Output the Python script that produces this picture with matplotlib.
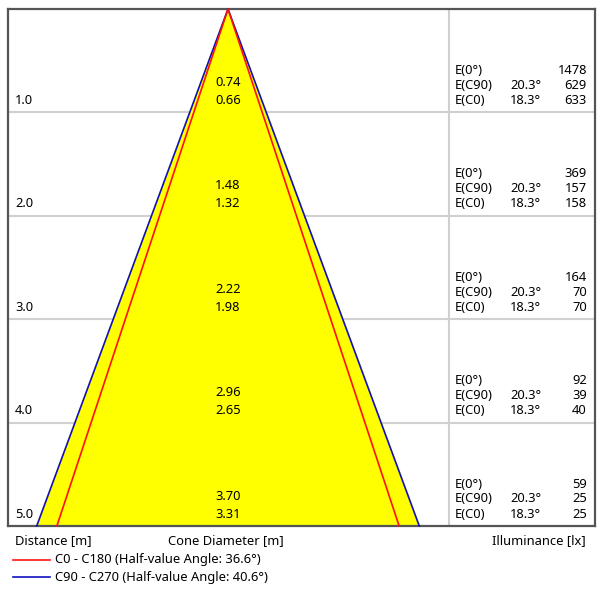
import numpy as np
import matplotlib
matplotlib.use("Agg")
from matplotlib import pyplot as plt

plt.rcParams['font.family'] = ['Noto Sans', 'DejaVu Sans']

# cone data
distance = [1, 2, 3, 4, 5]
diam_c90 = [0.74, 1.48, 2.22, 2.96, 3.70]
diam_c0 = [0.66, 1.32, 1.98, 2.65, 3.31]
E_0 = [1478, 369, 164, 92, 59]
E_c90 = [629, 157, 70, 39, 25]
E_c0 = [633, 158, 70, 40, 25]
angle_c90 = "20.3°"
angle_c0 = "18.3°"
half_angle_c0 = 36.6
half_angle_c90 = 40.6

W, H = 603, 591
fig = plt.figure(figsize=(W/100, H/100), dpi=100)
ax = fig.add_axes([8/W, (H-526)/H, (595-8)/W, (526-9)/H])

ppm = 517/5  # pixels per metre
x_left = -220/ppm
x_sep = 221/ppm
x_right = 367/ppm
ax.set_xlim(x_left, x_right)
ax.set_ylim(5, 0)
ax.set_xticks([])
ax.set_yticks([])
for s in ax.spines.values():
    s.set_color("#555555")
    s.set_linewidth(1.6)

# grid
for d in distance[:-1]:
    ax.axhline(d, color="#d0d0d0", lw=1.5, zorder=1)
ax.axvline(x_sep, color="#d0d0d0", lw=1.5, zorder=1)

# cones
d_max = distance[-1]
hb = diam_c90[-1]/2
hr = diam_c0[-1]/2
ax.fill([-hb, 0, hb], [d_max, 0, d_max], color="#ffff00", zorder=2)
ax.plot([-hb, 0, hb], [d_max, 0, d_max], color="#1010c0", lw=1.2, zorder=3, clip_on=False)
ax.plot([-hr, 0, hr], [d_max, 0, d_max], color="#ff1010", lw=1.2, zorder=3, clip_on=False)

fs = 9.3
off = 1/ppm
x_e = x_sep + 6/ppm
x_ang = x_sep + 61/ppm
x_val = x_right - 8/ppm
for i, d in enumerate(distance):
    ax.text(0, d - 30*off, f"{diam_c90[i]:.2f}", ha="center", va="center", fontsize=fs, zorder=4)
    ax.text(0, d - 12*off, f"{diam_c0[i]:.2f}", ha="center", va="center", fontsize=fs, zorder=4)
    ax.text(x_left + 7/ppm, d - 12*off, f"{d:.1f}", ha="left", va="center", fontsize=fs, zorder=4)
    ax.text(x_e, d - 42*off, "E(0°)", ha="left", va="center", fontsize=fs)
    ax.text(x_e, d - 27*off, "E(C90)", ha="left", va="center", fontsize=fs)
    ax.text(x_e, d - 12*off, "E(C0)", ha="left", va="center", fontsize=fs)
    ax.text(x_ang, d - 27*off, angle_c90, ha="left", va="center", fontsize=fs)
    ax.text(x_ang, d - 12*off, angle_c0, ha="left", va="center", fontsize=fs)
    ax.text(x_val, d - 42*off, str(E_0[i]), ha="right", va="center", fontsize=fs)
    ax.text(x_val, d - 27*off, str(E_c90[i]), ha="right", va="center", fontsize=fs)
    ax.text(x_val, d - 12*off, str(E_c0[i]), ha="right", va="center", fontsize=fs)

# labels below the frame
def fy(py):
    return 1 - py/H
def fx(px):
    return px/W

fig.text(fx(15), fy(541), "Distance [m]", ha="left", va="center", fontsize=fs)
fig.text(fx(226), fy(541), "Cone Diameter [m]", ha="center", va="center", fontsize=fs)
fig.text(fx(586), fy(541), "Illuminance [lx]", ha="right", va="center", fontsize=fs)

fig.add_artist(plt.Line2D([fx(13), fx(50)], [fy(560), fy(560)], color="#ff1010", lw=1.2))
fig.text(fx(55), fy(560), f"C0 - C180 (Half-value Angle: {half_angle_c0}°)", ha="left", va="center", fontsize=fs)
fig.add_artist(plt.Line2D([fx(13), fx(50)], [fy(577), fy(577)], color="#1010c0", lw=1.2))
fig.text(fx(55), fy(577), f"C90 - C270 (Half-value Angle: {half_angle_c90}°)", ha="left", va="center", fontsize=fs)

fig.savefig("out.png", dpi=100)
